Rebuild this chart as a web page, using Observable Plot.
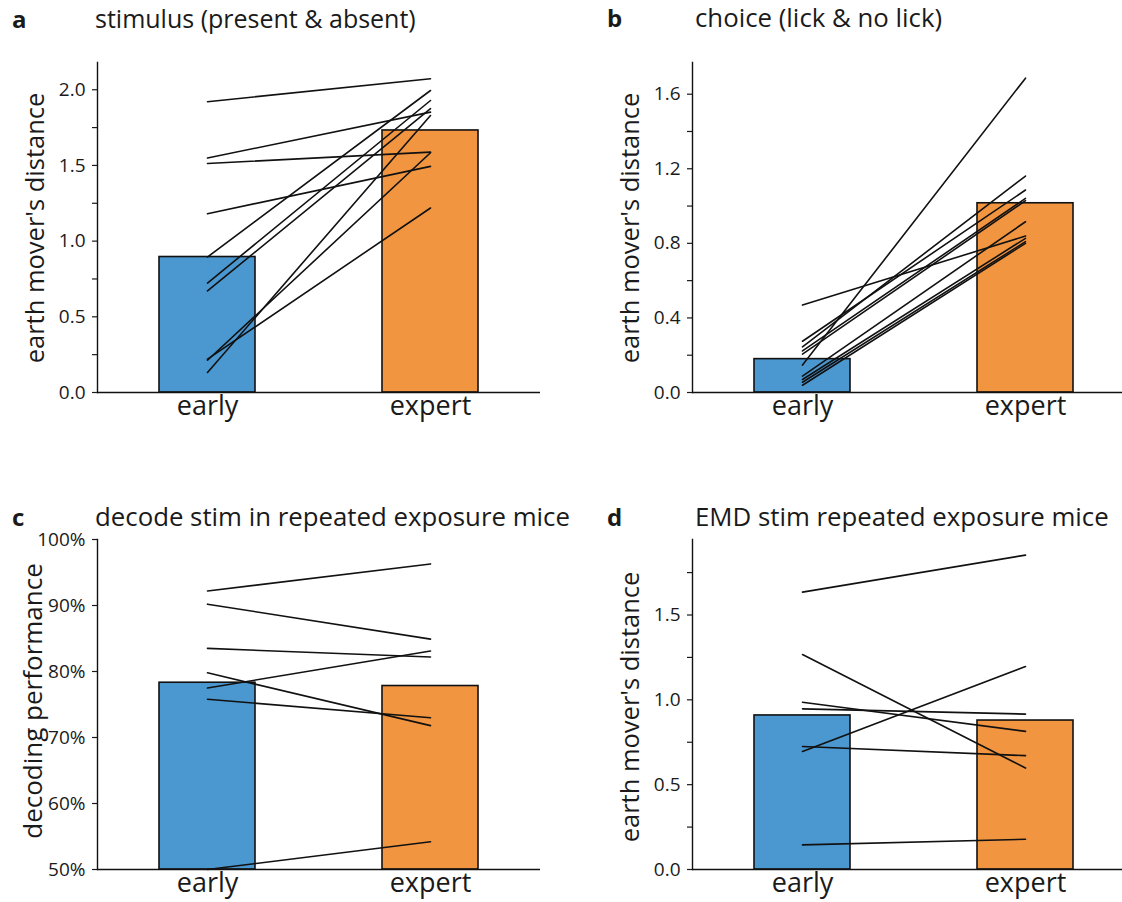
<!DOCTYPE html>
<html>
<head>
<meta charset="utf-8">
<script src="https://cdn.jsdelivr.net/npm/d3@7"></script>
<script src="https://cdn.jsdelivr.net/npm/@observablehq/plot@0.6"></script>
<style>
  html, body { margin: 0; padding: 0; background: #fff; overflow: hidden; }
  body { width: 1122px; height: 902px; position: relative; font-family: "Open Sans", sans-serif; color: #1a1a1a; }
  .panel { position: absolute; width: 561px; height: 451px; }
  .panel svg { max-width: none !important; display: block; }
  .letter { position: absolute; font-weight: bold; font-size: 24px; line-height: 1; }
  .title { position: absolute; line-height: 1; white-space: nowrap; }
  .ylab { position: absolute; line-height: 1; white-space: nowrap; transform: translate(-50%, -50%) rotate(-90deg); }
</style>
</head>
<body>
<script>
// ---------- data ----------
const groups = ["early", "expert"];
const barColors = ["#4b97cf", "#f29541"];

// a: stimulus (present & absent)
const stimEarly  = [1.921, 1.549, 1.513, 1.181, 0.895, 0.723, 0.671, 0.220, 0.213, 0.132];
const stimExpert = [2.073, 1.852, 1.588, 1.494, 1.995, 1.929, 1.875, 1.219, 1.584, 1.830];
const stimBars   = [0.895, 1.731];
const stimTicks  = [0, 0.5, 1.0, 1.5, 2.0];
const stimMinor  = [0.25, 0.75, 1.25, 1.75];

// b: choice (lick & no lick)
const choiceEarly  = [0.469, 0.275, 0.245, 0.223, 0.206, 0.147, 0.088, 0.070, 0.055, 0.039];
const choiceExpert = [0.839, 1.086, 1.161, 1.041, 1.029, 1.686, 0.916, 0.827, 0.809, 0.800];
const choiceBars   = [0.179, 1.015];
const choiceTicks  = [0, 0.4, 0.8, 1.2, 1.6];
const choiceMinor  = [0.2, 0.6, 1.0, 1.4];

// c: decode stim in repeated exposure mice
const decodeEarly  = [0.922, 0.902, 0.835, 0.798, 0.775, 0.758, 0.500];
const decodeExpert = [0.963, 0.849, 0.822, 0.718, 0.831, 0.730, 0.542];
const decodeBars   = [0.783, 0.778];
const decodeTicks  = [0.5, 0.6, 0.7, 0.8, 0.9, 1.0];

// d: EMD stim repeated exposure mice
const emdEarly  = [1.635, 1.267, 0.986, 0.947, 0.725, 0.696, 0.145];
const emdExpert = [1.853, 0.598, 0.814, 0.916, 0.671, 1.196, 0.178];
const emdBars   = [0.908, 0.878];
const emdTicks  = [0, 0.5, 1.0, 1.5];
const emdMinor  = [0.25, 0.75, 1.25, 1.75];

const panels = [
  {letter: "a", title: "stimulus (present & absent)", ylabel: "earth mover's distance",
   early: stimEarly, expert: stimExpert, bars: stimBars, domain: [0, 2.18],
   ticks: stimTicks, minor: stimMinor, fmt: d3.format(".1f"), left: 0, top: 0,
   titleSize: 25, titleX: 95, titleY: 6, labSize: 25.5, labX: 35, labY: 228},
  {letter: "b", title: "choice (lick & no lick)", ylabel: "earth mover's distance",
   early: choiceEarly, expert: choiceExpert, bars: choiceBars, domain: [0, 1.77],
   ticks: choiceTicks, minor: choiceMinor, fmt: d3.format(".1f"), left: 595, top: 0,
   titleSize: 25.8, titleX: 100, titleY: 5, labSize: 25.5, labX: 35, labY: 228},
  {letter: "c", title: "decode stim in repeated exposure mice", ylabel: "decoding performance",
   early: decodeEarly, expert: decodeExpert, bars: decodeBars, domain: [0.5, 1.0],
   ticks: decodeTicks, minor: [], fmt: d3.format(".0%"), left: 0, top: 477,
   titleSize: 25.8, titleX: 95, titleY: 27, labSize: 26, labX: 32, labY: 224},
  {letter: "d", title: "EMD stim repeated exposure mice", ylabel: "earth mover's distance",
   early: emdEarly, expert: emdExpert, bars: emdBars, domain: [0, 1.945],
   ticks: emdTicks, minor: emdMinor, fmt: d3.format(".1f"), left: 595, top: 477,
   titleSize: 25.8, titleX: 100, titleY: 27, labSize: 25.5, labX: 35, labY: 230}
];

const W = 561, H = 451, ML = 97, MR = 21, MT = 62, MB = 59;

for (const p of panels) {
  const rows = [];
  p.early.forEach((v, i) => {
    rows.push({id: i, group: groups[0], value: v});
    rows.push({id: i, group: groups[1], value: p.expert[i]});
  });
  const barRows = groups.map((g, i) => ({group: g, value: p.bars[i], color: barColors[i]}));
  const base = p.domain[0];

  const chart = Plot.plot({
    width: W, height: H,
    marginLeft: ML, marginRight: MR, marginTop: MT, marginBottom: MB,
    style: {fontFamily: "Open Sans", background: "transparent", color: "#1a1a1a", overflow: "visible"},
    x: {domain: groups, paddingInner: 0.57, paddingOuter: 0.275, label: null},
    y: {domain: p.domain, label: null},
    marks: [
      Plot.barY(barRows, {x: "group", y1: base, y2: "value", fill: "color", stroke: "#111", strokeWidth: 1.6}),
      Plot.line(rows, {x: "group", y: "value", z: "id", stroke: "#111", strokeWidth: 1.6}),
      Plot.frame({anchor: "left", stroke: "#111", strokeWidth: 1.4}),
      Plot.ruleY([base], {stroke: "#111", strokeWidth: 1.6}),
      Plot.axisY(p.ticks, {tickSize: 5, tickPadding: 7, fontSize: 19, tickFormat: p.fmt, label: null, strokeWidth: 1.2}),
      Plot.axisY(p.minor, {tickSize: 5, tickFormat: () => "", label: null, strokeWidth: 1.2}),
      Plot.axisX({tickSize: 0, tickPadding: 3, fontSize: 27, label: null})
    ]
  });
  const div = document.createElement("div");
  div.className = "panel";
  div.style.left = p.left + "px";
  div.style.top = p.top + "px";
  div.appendChild(chart);
  document.body.appendChild(div);

  const L = document.createElement("div");
  L.className = "letter";
  L.textContent = p.letter;
  L.style.left = (p.left + 12) + "px";
  L.style.top = (p.top + p.titleY + 1) + "px";
  document.body.appendChild(L);

  const T = document.createElement("div");
  T.className = "title";
  T.textContent = p.title;
  T.style.fontSize = p.titleSize + "px";
  T.style.left = (p.left + p.titleX) + "px";
  T.style.top = (p.top + p.titleY) + "px";
  document.body.appendChild(T);

  const Y = document.createElement("div");
  Y.className = "ylab";
  Y.textContent = p.ylabel;
  Y.style.fontSize = p.labSize + "px";
  Y.style.left = (p.left + p.labX) + "px";
  Y.style.top = (p.top + p.labY) + "px";
  document.body.appendChild(Y);
}
</script>
</body>
</html>
